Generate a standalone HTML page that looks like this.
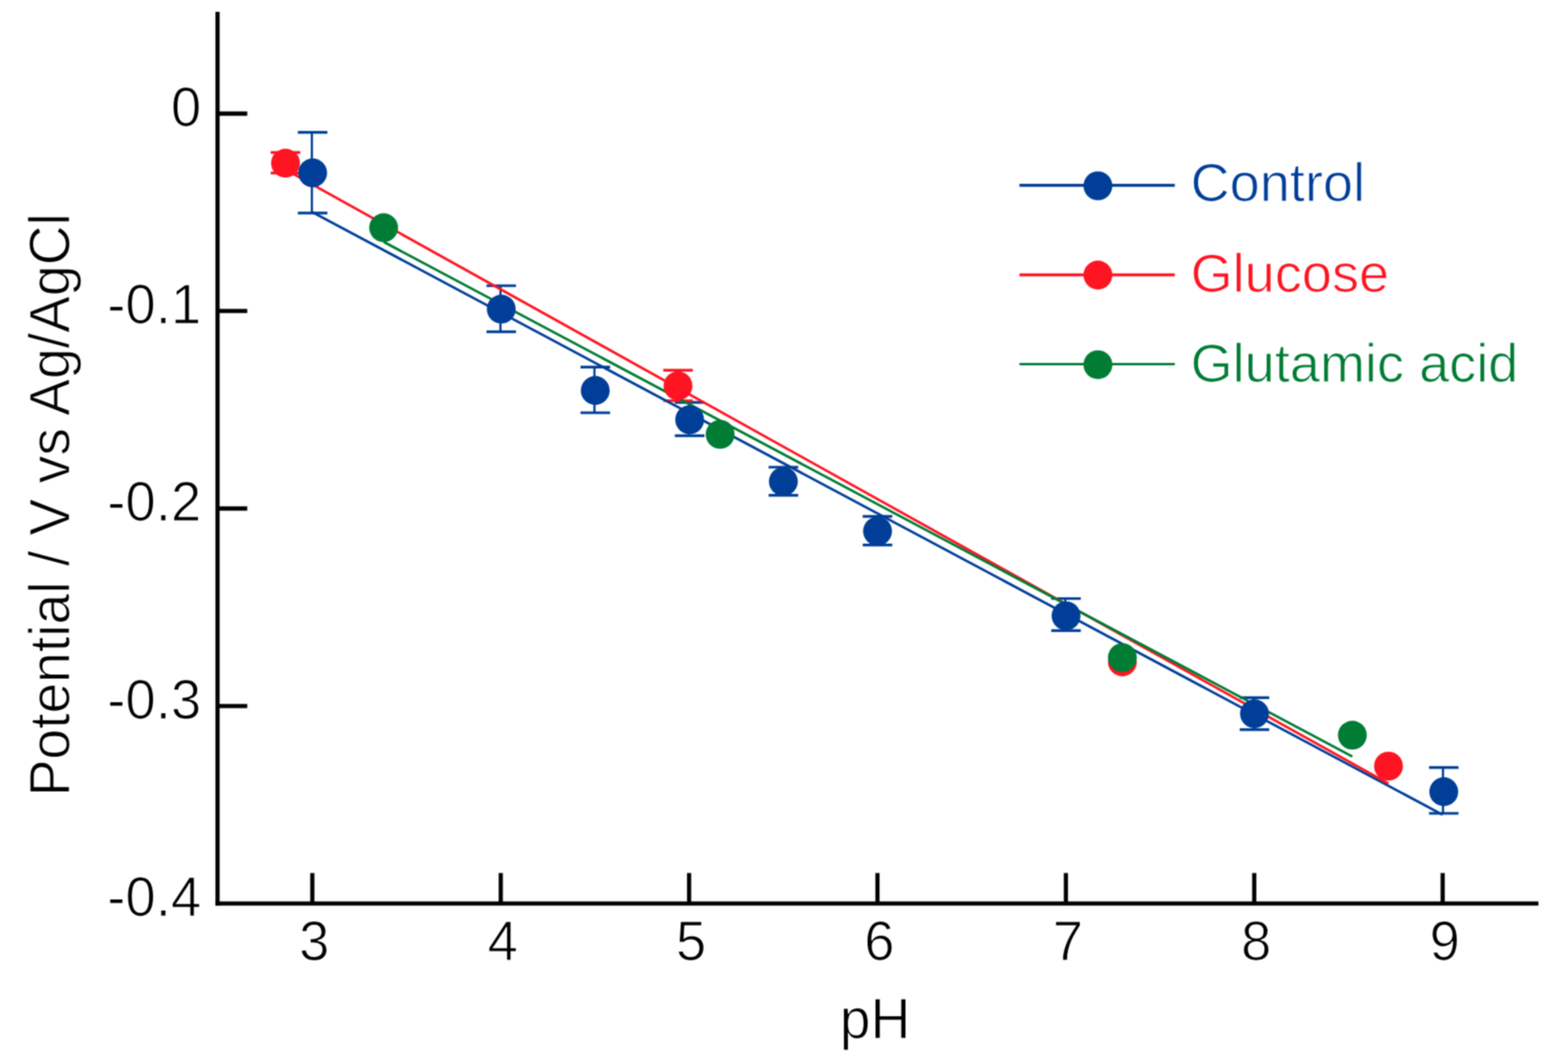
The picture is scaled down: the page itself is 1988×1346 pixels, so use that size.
<!DOCTYPE html><html><head><meta charset="utf-8"><style>html,body{margin:0;padding:0;background:#fff;}svg{display:block;}text{font-family:"Liberation Sans",Arial,sans-serif;}</style></head><body>
<svg width="1988" height="1346" viewBox="0 0 1988 1346">
<defs><filter id="soft" x="0" y="0" width="1988" height="1346" filterUnits="userSpaceOnUse" color-interpolation-filters="sRGB"><feConvolveMatrix order="3" kernelMatrix="1 2 1 2 4 2 1 2 1" divisor="16" edgeMode="duplicate"/></filter></defs>
<rect width="1988" height="1346" fill="#fff"/>
<g filter="url(#soft)">
<rect width="1988" height="1346" fill="#fff"/>
<g stroke="#000" stroke-width="5.3" fill="none">
<line x1="275.8" y1="15" x2="275.8" y2="1147.8"/>
<line x1="273.2" y1="1145.2" x2="1950.5" y2="1145.2"/>
<line x1="275.8" y1="144.0" x2="313.5" y2="144.0"/>
<line x1="275.8" y1="394.2" x2="313.5" y2="394.2"/>
<line x1="275.8" y1="644.5" x2="313.5" y2="644.5"/>
<line x1="275.8" y1="894.8" x2="313.5" y2="894.8"/>
<line x1="396.0" y1="1145.2" x2="396.0" y2="1106.5"/>
<line x1="634.9" y1="1145.2" x2="634.9" y2="1106.5"/>
<line x1="873.7" y1="1145.2" x2="873.7" y2="1106.5"/>
<line x1="1112.5" y1="1145.2" x2="1112.5" y2="1106.5"/>
<line x1="1351.4" y1="1145.2" x2="1351.4" y2="1106.5"/>
<line x1="1590.2" y1="1145.2" x2="1590.2" y2="1106.5"/>
<line x1="1829.1" y1="1145.2" x2="1829.1" y2="1106.5"/>
</g>
<g font-size="69" fill="#000" stroke="#fff" stroke-width="1.2" text-anchor="end">
<text transform="translate(255,159.8) scale(1,1.018)">0</text>
<text transform="translate(255,410.1) scale(1,1.018)">-0.1</text>
<text transform="translate(255,660.3) scale(1,1.018)">-0.2</text>
<text transform="translate(255,910.5) scale(1,1.018)">-0.3</text>
<text transform="translate(255,1160.8) scale(1,1.018)">-0.4</text>
</g>
<g font-size="69" fill="#000" stroke="#fff" stroke-width="1.2" text-anchor="middle">
<text transform="translate(398.5,1217.1) scale(1,1.018)">3</text>
<text transform="translate(637.4,1217.1) scale(1,1.018)">4</text>
<text transform="translate(876.2,1217.1) scale(1,1.018)">5</text>
<text transform="translate(1115.0,1217.1) scale(1,1.018)">6</text>
<text transform="translate(1353.9,1217.1) scale(1,1.018)">7</text>
<text transform="translate(1592.8,1217.1) scale(1,1.018)">8</text>
<text transform="translate(1831.6,1217.1) scale(1,1.018)">9</text>
</g>
<text transform="translate(1109.5,1315.5) scale(1,1.035)" font-size="70" text-anchor="middle" fill="#000" stroke="#fff" stroke-width="1.1">pH</text>
<text transform="translate(88.2,639.8) rotate(-90) scale(1,1.035)" font-size="70" text-anchor="middle" fill="#000" stroke="#fff" stroke-width="1.1">Potential / V vs Ag/AgCl</text>
<g stroke="#003e98" fill="none">
<path stroke-width="2.8" d="M395.4 167.7 V270"/><path stroke-width="3.4" d="M377.6 167.7 H415.1 M377.6 270 H415.1"/>
<path stroke-width="2.8" d="M634.5 362.1 V420.5"/><path stroke-width="3.4" d="M616.8 362.1 H654.2 M616.8 420.5 H654.2"/>
<path stroke-width="2.8" d="M753.7 465.2 V523.1"/><path stroke-width="3.4" d="M736.0 465.2 H773.5 M736.0 523.1 H773.5"/>
<path stroke-width="2.8" d="M873.4 510 V552.3"/><path stroke-width="3.4" d="M855.6 510 H893.1 M855.6 552.3 H893.1"/>
<path stroke-width="2.8" d="M992.2 592.1 V627.7"/><path stroke-width="3.4" d="M974.5 592.1 H1012.0 M974.5 627.7 H1012.0"/>
<path stroke-width="2.8" d="M1111.6 654.5 V690.7"/><path stroke-width="3.4" d="M1093.8 654.5 H1131.3 M1093.8 690.7 H1131.3"/>
<path stroke-width="2.8" d="M1350.6 758.6 V799.2"/><path stroke-width="3.4" d="M1332.8 758.6 H1370.3 M1332.8 799.2 H1370.3"/>
<path stroke-width="2.8" d="M1589.5 884.2 V924.7"/><path stroke-width="3.4" d="M1571.8 884.2 H1609.2 M1571.8 924.7 H1609.2"/>
<path stroke-width="2.8" d="M1829.5 972.8 V1030.9"/><path stroke-width="3.4" d="M1811.8 972.8 H1849.2 M1811.8 1030.9 H1849.2"/>
</g>
<g stroke="#ff1422" stroke-width="3.4" fill="none">
<path d="M362.0 193.3 V219.2 M343.2 193.3 H380.8 M343.2 219.2 H380.8"/>
<path d="M859.6 469.3 V507.9 M840.9 469.3 H878.4 M840.9 507.9 H878.4"/>
</g>
<line x1="396" y1="268.9" x2="1829" y2="1032.6" stroke="#003e98" stroke-width="3.2"/>
<line x1="361" y1="214.3" x2="1760.4" y2="993.1" stroke="#ff1422" stroke-width="3.2"/>
<line x1="486.4" y1="306.5" x2="1714.6" y2="958.8" stroke="#007c34" stroke-width="3.2"/>
<g fill="#003e98">
<circle cx="396.4" cy="219.1" r="18.3"/>
<circle cx="635.5" cy="391.8" r="18.3"/>
<circle cx="754.7" cy="494.9" r="18.3"/>
<circle cx="874.4" cy="532.0" r="18.3"/>
<circle cx="993.2" cy="610.2" r="18.3"/>
<circle cx="1112.6" cy="673.2" r="18.3"/>
<circle cx="1351.6" cy="780.5" r="18.3"/>
<circle cx="1590.5" cy="904.6" r="18.3"/>
<circle cx="1830.5" cy="1003.4" r="18.3"/>
</g>
<g fill="#ff1422">
<circle cx="362" cy="206.8" r="18.3"/>
<circle cx="859.6" cy="489.0" r="18.3"/>
<circle cx="1423" cy="838.9" r="18.3"/>
<circle cx="1760.4" cy="971" r="18.3"/>
</g>
<g fill="#007c34">
<circle cx="486.4" cy="288.6" r="18.3"/>
<circle cx="913" cy="550.5" r="18.3"/>
<circle cx="1423" cy="833.5" r="18.3"/>
<circle cx="1714.6" cy="931.8" r="18.3"/>
</g>
<line x1="1292.5" y1="234.8" x2="1489.5" y2="234.8" stroke="#003e98" stroke-width="3.8"/>
<circle cx="1392" cy="235.5" r="18.3" fill="#003e98"/>
<text transform="translate(1509.5,255.4) scale(1,1.01)" font-size="68.6" fill="#003e98" stroke="#fff" stroke-width="1.1">Control</text>
<line x1="1292.5" y1="348.4" x2="1489.5" y2="348.4" stroke="#ff1422" stroke-width="3.8"/>
<circle cx="1392" cy="348.6" r="18.3" fill="#ff1422"/>
<text transform="translate(1509.5,369.5) scale(1,1.01)" font-size="68.6" fill="#ff1422" stroke="#fff" stroke-width="1.1">Glucose</text>
<line x1="1292.5" y1="461.5" x2="1489.5" y2="461.5" stroke="#007c34" stroke-width="3.0"/>
<circle cx="1392" cy="462.2" r="18.3" fill="#007c34"/>
<text transform="translate(1509.5,483.6) scale(1,1.01)" font-size="68.6" fill="#007c34" stroke="#fff" stroke-width="1.1">Glutamic acid</text>
</g>
</svg></body></html>
